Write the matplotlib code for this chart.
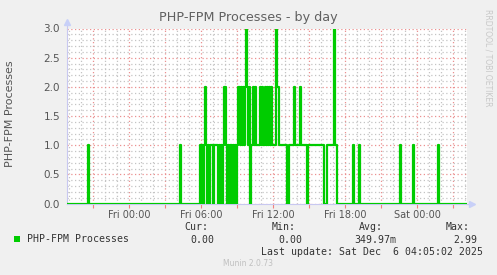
import matplotlib

matplotlib.use("Agg")
import matplotlib.dates as mdates
import matplotlib.pyplot as plt
import matplotlib.ticker as mticker
import numpy as np
import pandas as pd
from matplotlib.patches import Rectangle

# 5-minute samples, graph window Thu 18:50 -> Sat 04:10
START = "2025-12-04 18:50"
N_SAMPLES = 400

# isolated single-sample spikes to 1 process
spike_times = [
    "2025-12-04 20:35",
    "2025-12-05 04:15",
    "2025-12-05 18:40",
    "2025-12-05 19:10",
    "2025-12-05 22:35",
    "2025-12-05 23:40",
    "2025-12-06 01:45",
]

# busy stretch, one value per 5 minutes starting here
busy_start = "2025-12-05 05:55"
busy_values = [
    1, 0, 1, 0, 1, 2, 1, 0, 1, 0,
    1, 1, 1, 0, 1, 1, 1, 1, 0, 1,
    0, 1, 0, 1, 2, 2, 1, 0, 1, 0,
    1, 1, 0, 1, 0, 1, 0, 1, 2, 2,
    1, 2, 1, 2, 1, 2, 3, 2, 1, 2,
    0, 1, 1, 2, 1, 2, 1, 1, 1, 1,
    2, 1, 2, 1, 1, 2, 1, 2, 1, 2,
    1, 2, 1, 1, 1, 1, 3, 2, 2, 1,
    1, 1, 1, 1, 1, 1, 1, 0, 0, 1,
    1, 1, 1, 1, 2, 1, 1, 1, 1, 1,
    2, 1, 1, 1, 1, 1, 1, 0, 1, 1,
    1, 1, 1, 1, 1, 1, 1, 1, 1, 1,
    1, 1, 1, 1, 0, 0, 0, 1, 1, 1,
    1, 1, 1, 1, 3, 1, 1,
]

legend_label = "PHP-FPM Processes"
stat_names = ["Cur:", "Min:", "Avg:", "Max:"]
stat_values = ["0.00", "0.00", "349.97m", "2.99"]
last_update = "Last update: Sat Dec  6 04:05:02 2025"

GREEN = "#00cc00"
BG = "#f0f0f0"


def build_series():
    times = pd.date_range(START, periods=N_SAMPLES, freq="5min")
    series = pd.Series(0.0, index=times)
    for t in spike_times:
        series[pd.Timestamp(t)] = 1.0
    busy_idx = pd.date_range(busy_start, periods=len(busy_values), freq="5min")
    series[busy_idx] = busy_values
    # extra point so the last step reaches the right edge
    end = times[-1] + pd.Timedelta(minutes=5)
    series[end] = series.iloc[-1]
    return series


series = build_series()

fig = plt.figure(figsize=(4.97, 2.75), dpi=100, facecolor=BG)
ax = fig.add_axes([67 / 497, 71.5 / 275, 400 / 497, 175 / 275])
ax.set_facecolor("white")

ax.step(series.index, series.values, where="post", color=GREEN, linewidth=1.6, zorder=3)

ax.set_xlim(series.index[0], series.index[-1])
ax.set_ylim(0, 3.0)

# grids: hourly minor / 3-hourly major, 0.1 minor / 0.5 major
ax.xaxis.set_major_locator(mdates.HourLocator(byhour=range(0, 24, 3)))
ax.xaxis.set_minor_locator(mdates.HourLocator())


def hour_label(x, pos):
    d = mdates.num2date(x)
    return d.strftime("%a %H:%M") if d.hour % 6 == 0 else ""


ax.xaxis.set_major_formatter(mticker.FuncFormatter(hour_label))
ax.yaxis.set_major_locator(mticker.MultipleLocator(0.5))
ax.yaxis.set_minor_locator(mticker.MultipleLocator(0.1))
ax.yaxis.set_major_formatter(mticker.FormatStrFormatter("%.1f"))

ax.grid(which="minor", color="#c4c4c4", linestyle=(0, (1, 2)), linewidth=0.9)
ax.grid(which="major", color="#eb9090", linestyle=(0, (1, 2)), linewidth=0.9)
ax.set_axisbelow(True)

ax.tick_params(axis="x", which="major", length=3, color="#f08080", labelsize=7,
               labelcolor="#555555", pad=2)
ax.tick_params(axis="x", which="minor", length=0)
ax.tick_params(axis="y", which="major", length=0, labelsize=7.5, labelcolor="#555555", pad=5)
ax.tick_params(axis="y", which="minor", length=0)

for side in ["top", "right"]:
    ax.spines[side].set_visible(False)
ax.spines["left"].set_color("#c8c8f0")
ax.spines["bottom"].set_color("#c8c8f0")
ax.spines["left"].set_linewidth(0.8)
ax.spines["bottom"].set_linewidth(0.8)

# axis arrows
ax.plot([0, 0], [1.0, 1.035], transform=ax.transAxes, color="#c8c8f0", lw=0.8, clip_on=False)
ax.plot([0], [1.035], marker="^", markersize=4, color="#c8d0f8", transform=ax.transAxes, clip_on=False)
ax.plot([1.0, 1.012], [0, 0], transform=ax.transAxes, color="#c8c8f0", lw=0.8, clip_on=False)
ax.plot([1.012], [0], marker=">", markersize=5, color="#c8d0f8", transform=ax.transAxes, clip_on=False)

fig.text(10 / 497, 1 - 114 / 275, "PHP-FPM Processes", rotation=90, ha="center", va="center",
         fontsize=8, color="#555555")
fig.text(248 / 497, 1 - 17 / 275, "PHP-FPM Processes - by day", ha="center", va="center",
         fontsize=9.2, color="#606060")
fig.text(488 / 497, 1 - 58 / 275, "RRDTOOL / TOBI OETIKER", rotation=270, ha="center", va="center",
         fontsize=5.5, color="#c8c8c8")

# legend block
fig.patches.append(Rectangle((14 / 497, 1 - 242 / 275), 6 / 497, 6 / 275, transform=fig.transFigure,
                             facecolor=GREEN, edgecolor="none"))
mono = dict(family="DejaVu Sans Mono", fontsize=7.1, color="#333333", va="center")
fig.text(27 / 497, 1 - 239.5 / 275, legend_label, ha="left", **mono)
name_right = [208, 296, 383, 470]
value_right = [214, 302, 396, 477]
for name, xr in zip(stat_names, name_right):
    fig.text(xr / 497, 1 - 227.3 / 275, name, ha="right", **mono)
for val, xr in zip(stat_values, value_right):
    fig.text(xr / 497, 1 - 239.7 / 275, val, ha="right", **mono)
fig.text(483 / 497, 1 - 251.7 / 275, last_update, ha="right", **mono)
fig.text(248 / 497, 1 - 263.7 / 275, "Munin 2.0.73", ha="center", va="center", fontsize=5.5,
         color="#c0c0c0")

fig.savefig("out.png", dpi=100, facecolor=BG)
